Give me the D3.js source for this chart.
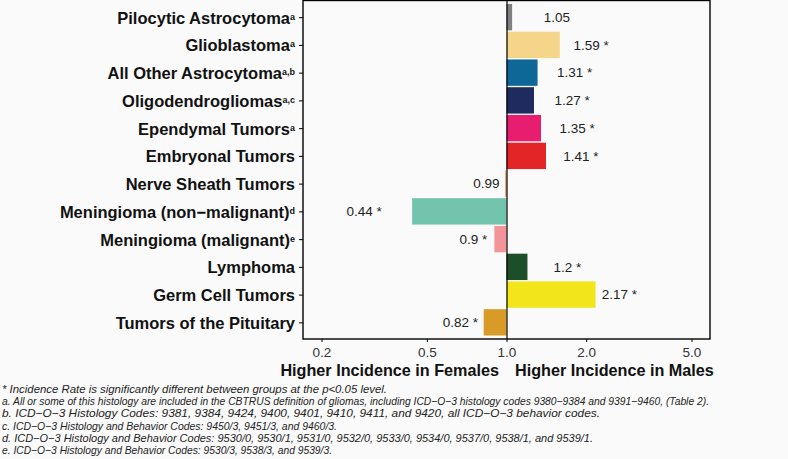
<!DOCTYPE html>
<html>
<head>
<meta charset="utf-8">
<script src="https://cdn.jsdelivr.net/npm/d3@7"></script>
<style>
  body { margin: 0; background: #fafafa; }
  svg { display: block; }
</style>
</head>
<body>
<script>

// chart data
var categories = ['Pilocytic Astrocytoma', 'Glioblastoma', 'All Other Astrocytoma', 'Oligodendrogliomas',
                  'Ependymal Tumors', 'Embryonal Tumors', 'Nerve Sheath Tumors', 'Meningioma (non\u2212malignant)',
                  'Meningioma (malignant)', 'Lymphoma', 'Germ Cell Tumors', 'Tumors of the Pituitary']
var footMarks = ['a', 'a', 'a,b', 'a,c', 'a', '', '', 'd', 'e', '', '', '']
var rateRatios = [1.05, 1.59, 1.31, 1.27, 1.35, 1.41, 0.99, 0.44, 0.9, 1.2, 2.17, 0.82]
var significant = [false, true, true, true, true, true, false, true, true, true, true, true]
var xTicks = [0.2, 0.5, 1.0, 2.0, 5.0]
var xTickLabels = ['0.2', '0.5', '1.0', '2.0', '5.0']
var footnotes = [
    '* Incidence Rate is significantly different between groups at the p<0.05 level.',
    'a. All or some of this histology are included in the CBTRUS definition of gliomas, including ICD\u2212O\u22123 histology codes 9380\u22129384 and 9391\u22129460, (Table 2).',
    'b. ICD\u2212O\u22123 Histology Codes: 9381, 9384, 9424, 9400, 9401, 9410, 9411, and 9420, all ICD\u2212O\u22123 behavior codes.',
    'c. ICD\u2212O\u22123 Histology and Behavior Codes: 9450/3, 9451/3, and 9460/3.',
    'd. ICD\u2212O\u22123 Histology and Behavior Codes: 9530/0, 9530/1, 9531/0, 9532/0, 9533/0, 9534/0, 9537/0, 9538/1, and 9539/1.',
    'e. ICD\u2212O\u22123 Histology and Behavior Codes: 9530/3, 9538/3, and 9539/3.'
]

// palette, one per category
var barColors = ['#808080', '#f5d589', '#0d6797', '#1f2a5e', '#e81d6f', '#e42528', '#f0862e', '#73c4ad',
                 '#f19598', '#1c4f29', '#f2e51b', '#d89b28']

// the footnotes are set in a condensed face, so squeeze each line to its width
var footnoteWidths = [385, 707, 598, 335, 591, 330]

var width = 788
var height = 459
var panel = { left: 303, right: 710, top: 0.5, bottom: 339 }
var font = '"Liberation Sans", Arial, sans-serif'

var svg = d3.select('body')
                .append('svg')
                    .attr('width', width)
                    .attr('height', height)
                    .style('font-family', font)

// log scale, limits 0.2..5 with 5% expansion like ggplot
var expand = Math.pow(10, 0.05 * Math.log10(5 / 0.2))
var xscale = d3.scaleLog()
                .domain([0.2 / expand, 5 * expand])
                .range([panel.left, panel.right])

var yscale = d3.scalePoint()
                .domain(categories)
                .range([panel.top, panel.bottom])
                .padding(0.6)

var barHeight = yscale.step() * 0.95

var rows = categories.map(function(c, i) {
    return { name: c, mark: footMarks[i], value: rateRatios[i], sig: significant[i], color: barColors[i] }
})

// bars from 1.0 to the ratio
svg.append('g')
    .selectAll('rect')
    .data(rows)
    .enter()
        .append('rect')
            .attr('x', function(d) { return Math.min(xscale(1), xscale(d.value)) })
            .attr('y', function(d) { return yscale(d.name) - barHeight / 2 })
            .attr('width', function(d) { return Math.abs(xscale(d.value) - xscale(1)) })
            .attr('height', barHeight)
            .attr('fill', function(d) { return d.color })

// value labels
svg.append('g')
    .selectAll('text')
    .data(rows)
    .enter()
        .append('text')
            .attr('x', function(d) { return xscale(d.value > 1 ? d.value + 0.5 : d.value - 0.15) })
            .attr('y', function(d) { return yscale(d.name) })
            .attr('dy', '0.36em')
            .attr('text-anchor', 'middle')
            .style('font-size', '13.5px')
            .attr('fill', '#222')
            .text(function(d) { return d.value + (d.sig ? ' *' : '') })

// reference line at 1.0
svg.append('line')
    .attr('x1', xscale(1) + 0.5).attr('x2', xscale(1) + 0.5)
    .attr('y1', panel.top).attr('y2', panel.bottom)
    .attr('stroke', '#000')
    .attr('stroke-width', 1.2)

// panel border
svg.append('rect')
    .attr('x', panel.left)
    .attr('y', panel.top)
    .attr('width', panel.right - panel.left)
    .attr('height', panel.bottom - panel.top)
    .attr('fill', 'none')
    .attr('stroke', '#000')
    .attr('stroke-width', 1.4)

// y axis
var y_axis = d3.axisLeft(yscale).tickSize(4).tickPadding(4).tickFormat('')
var gy = svg.append('g')
            .attr('transform', 'translate(' + panel.left + ',0)')
            .call(y_axis)
gy.select('.domain').remove()
gy.selectAll('.tick line').attr('stroke', '#000').attr('stroke-width', 1)

var ylab = gy.selectAll('.tick')
            .append('text')
                .attr('x', -8)
                .attr('dy', '0.36em')
                .attr('text-anchor', 'end')
                .attr('fill', '#111')
                .style('font-size', '16.5px')
                .style('font-weight', 'bold')
ylab.append('tspan').text(function(d, i) { return d })
ylab.append('tspan')
        .attr('dy', '-0.45em')
        .style('font-size', '9px')
        .text(function(d, i) { return footMarks[i] })

// x axis
var x_axis = d3.axisBottom(xscale)
                .tickValues(xTicks)
                .tickSize(3)
                .tickPadding(5)
                .tickFormat(function(d, i) { return xTickLabels[i] })
var gx = svg.append('g')
            .attr('transform', 'translate(0,' + panel.bottom + ')')
            .call(x_axis)
gx.select('.domain').remove()
gx.selectAll('.tick line').attr('stroke', '#000')
gx.selectAll('.tick text')
    .attr('fill', '#333')
    .style('font-size', '13.5px')
    .style('font-family', font)

// x axis titles
svg.append('text')
    .attr('x', 499).attr('y', 376)
    .attr('text-anchor', 'end')
    .style('font-size', '16.2px')
    .style('font-weight', 'bold')
    .attr('fill', '#111')
    .text('Higher Incidence in Females')
svg.append('text')
    .attr('x', 515).attr('y', 376)
    .attr('text-anchor', 'start')
    .style('font-size', '16.2px')
    .style('font-weight', 'bold')
    .attr('fill', '#111')
    .text('Higher Incidence in Males')

// footnotes
svg.append('g')
    .selectAll('text')
    .data(footnotes)
    .enter()
        .append('text')
            .attr('x', 2)
            .attr('y', function(d, i) { return 393 + i * 12.2 })
            .attr('textLength', function(d, i) { return footnoteWidths[i] })
            .attr('lengthAdjust', 'spacingAndGlyphs')
            .style('font-style', 'italic')
            .style('font-size', '11px')
            .attr('fill', '#222')
            .text(function(d) { return d })

</script>
</body>
</html>
